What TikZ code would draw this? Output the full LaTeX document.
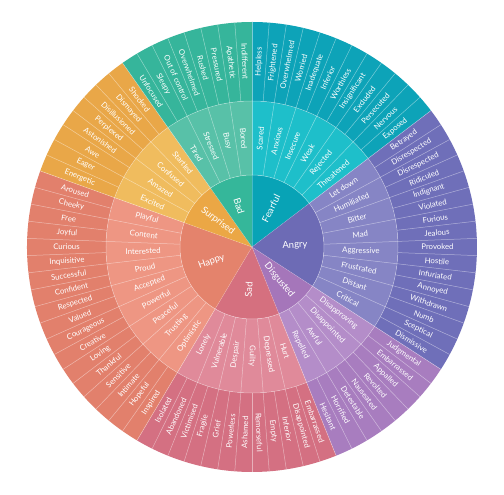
\documentclass[tikz,border=0pt]{standalone}
\usepackage{fontspec}
\setmainfont{Lato}
\definecolor{fearI}{HTML}{08A3B6}\definecolor{fearM}{HTML}{1EBFCA}\definecolor{fearO}{HTML}{0DA3B8}
\definecolor{angI}{HTML}{6D6BB5}\definecolor{angM}{HTML}{8685C5}\definecolor{angO}{HTML}{6F6FB9}
\definecolor{disI}{HTML}{A576BA}\definecolor{disM}{HTML}{B48DC9}\definecolor{disO}{HTML}{A87DBF}
\definecolor{sadI}{HTML}{D5707F}\definecolor{sadM}{HTML}{E08A9A}\definecolor{sadO}{HTML}{D47082}
\definecolor{hapI}{HTML}{E4836C}\definecolor{hapM}{HTML}{EE9683}\definecolor{hapO}{HTML}{E2806C}
\definecolor{surI}{HTML}{EBA745}\definecolor{surM}{HTML}{F0BC5E}\definecolor{surO}{HTML}{E9A748}
\definecolor{badI}{HTML}{35B79A}\definecolor{badM}{HTML}{58C1A8}\definecolor{badO}{HTML}{36B59B}
\def\dd{4.390243902}
\def\rA{72pt}\def\rB{146pt}\def\rC{225pt}
\tikzset{
  lblI/.style={text=white, inner sep=0pt, font=\fontsize{9.5}{10}\selectfont},
  lblM/.style={text=white, inner sep=0pt, font=\fontsize{7.9}{8}\selectfont},
  lblO/.style={text=white, inner sep=0pt, font=\fontsize{7.8}{8}\selectfont},
  sepline/.style={draw=white, draw opacity=0.45, line width=0.5pt}
}
% #1 start leaf, #2 leaves, #3 #4 #5 colours, #6 name, #7 middle list, #8 outer list
\newcommand\wheelgroup[8]{%
  \pgfmathsetmacro\ga{90-#1*\dd}%
  \pgfmathsetmacro\gb{90-(#1+#2)*\dd}%
  \fill[#3] (0,0) -- (\ga:\rA) arc[start angle=\ga,end angle=\gb,radius=\rA] -- cycle;
  \fill[#4] (\ga:\rA) arc[start angle=\ga,end angle=\gb,radius=\rA] -- (\gb:\rB) arc[start angle=\gb,end angle=\ga,radius=\rB] -- cycle;
  \fill[#5] (\ga:\rB) arc[start angle=\ga,end angle=\gb,radius=\rB] -- (\gb:\rC) arc[start angle=\gb,end angle=\ga,radius=\rC] -- cycle;
  \pgfmathsetmacro\am{90-(#1+#2/2)*\dd}%
  \pgfmathsetmacro\rot{cos(\am)<-0.0001 ? \am+180 : \am}%
  \node[lblI, rotate=\rot] (in-#1) at (\am:43pt) {#6};
  \foreach \w [count=\i from 0] in {#7} {%
    \pgfmathsetmacro\am{90-(#1+2*\i+1)*\dd}%
    \pgfmathsetmacro\rot{cos(\am)<-0.0001 ? \am+180 : \am}%
    \node[lblM, rotate=\rot] (mid-#1-\i) at (\am:109pt) {\w};
  }
  \foreach \w [count=\i from 0] in {#8} {%
    \pgfmathsetmacro\am{90-(#1+\i+0.5)*\dd}%
    \pgfmathsetmacro\rot{cos(\am)<-0.0001 ? \am+180 : \am}%
    \node[lblO, rotate=\rot] (out-#1-\i) at (\am:185.5pt) {\w};
  }
}
\begin{document}
\begin{tikzpicture}
\fill[white] (-252pt,-248pt) rectangle (252pt,247pt);
\useasboundingbox (-252pt,-248pt) rectangle (252pt,247pt);
\wheelgroup{0}{12}{fearI}{fearM}{fearO}{Fearful}
  {Scared,Anxious,Insecure,Weak,Rejected,Threatened}
  {Helpless,Frightened,Overwhelmed,Worried,Inadequate,Inferior,Worthless,Insignificant,Excluded,Persecuted,Nervous,Exposed}
\wheelgroup{12}{16}{angI}{angM}{angO}{Angry}
  {Let down,Humiliated,Bitter,Mad,Aggressive,Frustrated,Distant,Critical}
  {Betrayed,Disrespected,Disrespected,Ridiculed,Indignant,Violated,Furious,Jealous,Provoked,Hostile,Infuriated,Annoyed,Withdrawn,Numb,Sceptical,Dismissive}
\wheelgroup{28}{8}{disI}{disM}{disO}{Disgusted}
  {Disapproving,Disappointed,Awful,Repelled}
  {Judgmental,Embarrassed,Appalled,Revolted,Nauseated,Detestable,Horrified,Hesitant}
\wheelgroup{36}{12}{sadI}{sadM}{sadO}{Sad}
  {Hurt,Depressed,Guilty,Despair,Vulnerable,Lonely}
  {Embarrassed,Disappointed,Inferior,Empty,Remorseful,Ashamed,Powerless,Grief,Fragile,Victimised,Abandoned,Isolated}
\wheelgroup{48}{18}{hapI}{hapM}{hapO}{Happy}
  {Optimistic,Trusting,Peaceful,Powerful,Accepted,Proud,Interested,Content,Playful}
  {Inspired,Hopeful,Intimate,Sensitive,Thankful,Loving,Creative,Courageous,Valued,Respected,Confident,Successful,Inquisitive,Curious,Joyful,Free,Cheeky,Aroused}
\wheelgroup{66}{8}{surI}{surM}{surO}{Surprised}
  {Excited,Amazed,Confused,Startled}
  {Energetic,Eager,Awe,Astonished,Perplexed,Disillusioned,Dismayed,Shocked}
\wheelgroup{74}{8}{badI}{badM}{badO}{Bad}
  {Tired,Stressed,Busy,Bored}
  {Unfocused,Sleepy,Out of control,Overwhelmed,Rushed,Pressured,Apathetic,Indifferent}
% separators
\foreach \k in {0,...,81} {%
  \pgfmathsetmacro\aa{90-\k*\dd}%
  \draw[sepline] (\aa:\rB) -- (\aa:\rC);
}
\foreach \k in {0,2,...,80} {%
  \pgfmathsetmacro\aa{90-\k*\dd}%
  \draw[sepline] (\aa:\rA) -- (\aa:\rB);
}
\foreach \k in {0,12,28,36,48,66,74} {%
  \pgfmathsetmacro\aa{90-\k*\dd}%
  \draw[sepline, draw opacity=0.25] (0,0) -- (\aa:\rA);
}
\draw[sepline] (0,0) circle[radius=\rA];
\draw[sepline] (0,0) circle[radius=\rB];
\end{tikzpicture}
\end{document}
